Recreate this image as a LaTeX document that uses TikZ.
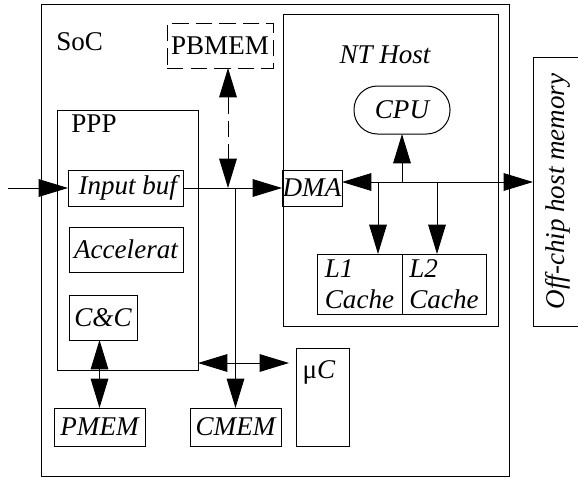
\documentclass[tikz,border=0pt]{standalone}
\usepackage{fontspec}
\setmainfont{Liberation Serif}
\usetikzlibrary{arrows.meta}

\begin{document}
\begin{tikzpicture}[x=0.85pt,y=-0.85pt,line width=0.85pt,
  box/.style={draw,rectangle,inner sep=0pt,outer sep=0pt},
  sz/.style 2 args={minimum width=#1*0.85pt,minimum height=#2*0.85pt},
  txt/.style={font=\fontsize{23}{26}\selectfont},
  itxt/.style={font=\fontsize{23}{26}\selectfont\itshape},
  dsh/.style={dash pattern=on 14pt off 6pt},
  arr/.style={-{Triangle[length=25pt,width=15pt]}},
  darr/.style={{Triangle[length=25pt,width=15pt]}-{Triangle[length=25pt,width=15pt]}}]
  \clip (0,0) rectangle (578,477);
  % containers
  \node[box,sz={468}{472}] (soc) at (275,240) {};
  \node[txt,anchor=west] (soclbl) at (52,42) {SoC};
  \node[box,sz={141}{260}] (ppp) at (127.5,240) {};
  \node[txt,anchor=west] (ppplbl) at (67,124) {PPP};
  \node[box,sz={215}{312}] (nthost) at (390.5,170) {};
  \node[itxt] (ntlbl) at (385,55) {NT Host};
  % blocks
  \node[box,dsh,sz={106}{45},txt] (pbmem) at (220,45.5) {PBMEM};
  \node[box,sz={115}{36},itxt] (inbuf) at (125.5,188) {\,Input buf};
  \node[box,sz={114}{45},itxt] (accel) at (126,249.5) {Accelerat};
  \node[box,sz={68}{45},itxt] (cc) at (103,317.5) {C\&C};
  \node[box,sz={91}{38},itxt] (pmem) at (99.5,427) {PMEM};
  \node[box,sz={91}{38},itxt] (cmem) at (235.5,427) {CMEM};
  \node[box,sz={53}{98}] (muc) at (322.5,397) {};
  \node[txt,anchor=north west,inner sep=0pt] (muclbl) at (302,360) {μ\textit{C}};
  \node[box,sz={96}{48},rounded corners=20pt,itxt] (cpu) at (402,110) {CPU};
  \node[box,sz={60}{36},itxt] (dma) at (312,188) {DMA};
  \node[box,sz={85}{60},itxt,align=left] (l1) at (359.5,284) {L1\\Cache};
  \node[box,sz={84}{60},itxt,align=left] (l2) at (444,284) {L2\\Cache};
  \node[box,rotate=90,sz={269}{49},itxt] (offchip) at (557.5,191.5) {Off-chip host memory};
  % connectors
  \coordinate (src) at (8,188);
  \coordinate (pbj) at (228,188);
  \coordinate (mcj) at (289,363);
  \coordinate (bus) at (402,182);
  \coordinate (c1) at (378,182);
  \coordinate (c2) at (437,182);
  \draw[arr] (src) -- (inbuf.west);
  \draw[arr] (inbuf.east) -- (dma.west);
  \draw[arr] (cmem.north |- inbuf.east) -- (cmem.north);
  \draw[darr,dsh] (pbj |- pbmem.south) -- (pbj);
  \draw[darr] (ppp.east |- mcj) -- (mcj);
  \draw[darr] (pmem.north |- cc.south) -- (pmem.north);
  \draw[darr] (dma.east |- bus) -- (offchip.north |- bus);
  \draw[arr] (bus) -- (cpu.south);
  \draw[arr] (c1) -- (c1 |- l1.north);
  \draw[arr] (c2) -- (c2 |- l2.north);
\end{tikzpicture}
\end{document}
